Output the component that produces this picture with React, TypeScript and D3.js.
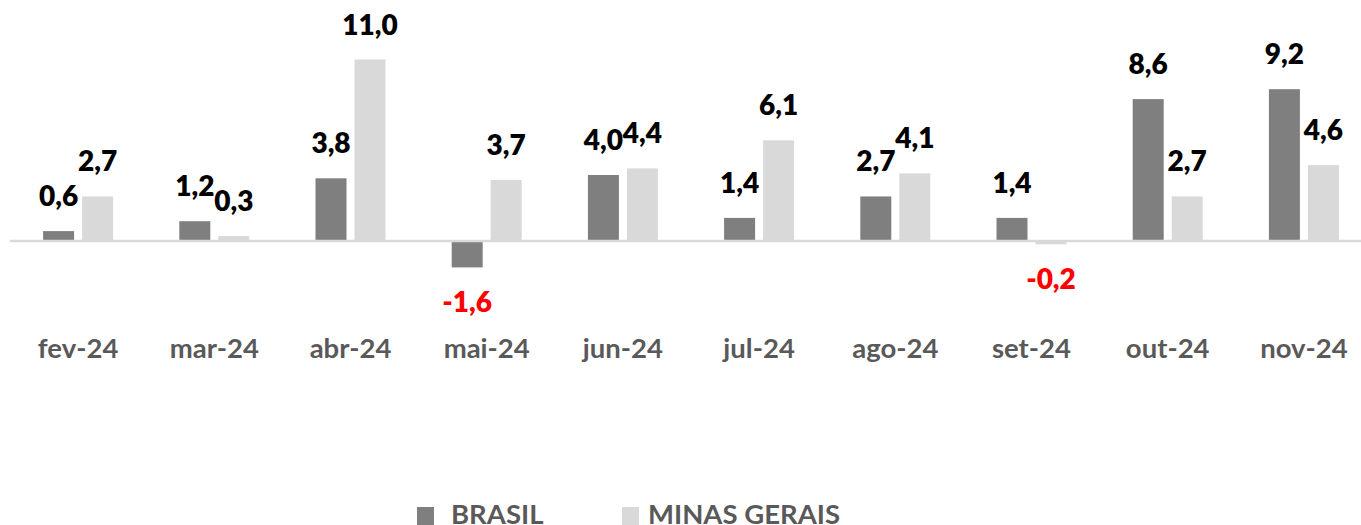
import React from "react";
import * as d3 from "d3";

const months = ["fev-24", "mar-24", "abr-24", "mai-24", "jun-24", "jul-24", "ago-24", "set-24", "out-24", "nov-24"];
const seriesNames = ["BRASIL", "MINAS GERAIS"];
const brasil = [0.6, 1.2, 3.8, -1.6, 4.0, 1.4, 2.7, 1.4, 8.6, 9.2];
const minasGerais = [2.7, 0.3, 11.0, 3.7, 4.4, 6.1, 4.1, -0.2, 2.7, 4.6];
const colors = ["#7f7f7f", "#d9d9d9"];

const W = 1361;
const H = 525;
const FONT = "Lato, 'Open Sans', sans-serif";

export default function App() {
  const x = d3.scaleBand<string>().domain(months).range([10, 1372]).paddingInner(0);
  const sub = d3.scaleBand<string>().domain(seriesNames).range([-35, 35]).paddingInner(0.205);
  const y = d3.scaleLinear().domain([-2, 12]).range([241 + 2 * 16.5, 241 - 12 * 16.5]);
  const fmt = (v: number) => v.toFixed(1).replace(".", ",");
  const data = [brasil, minasGerais];

  return (
    <svg width={W} height={H} style={{ position: "fixed", left: 0, top: 0, background: "#fff" }}>
      {/* bars */}
      {data.map((vals, si) =>
        vals.map((v, i) => {
          const cx = (x(months[i]) as number) + x.bandwidth() / 2;
          const bx = cx + (sub(seriesNames[si]) as number);
          return (
            <rect
              key={`b${si}-${i}`}
              x={bx}
              y={Math.min(y(v), y(0))}
              width={sub.bandwidth()}
              height={Math.abs(y(v) - y(0))}
              fill={colors[si]}
            />
          );
        })
      )}
      {/* zero line */}
      <line x1={10} x2={W} y1={y(0)} y2={y(0)} stroke="#d9d9d9" strokeWidth={2.5} />
      {/* data labels */}
      {data.map((vals, si) =>
        vals.map((v, i) => {
          const cx = (x(months[i]) as number) + x.bandwidth() / 2;
          const lx = cx + (sub(seriesNames[si]) as number) + sub.bandwidth() / 2;
          const ly = v >= 0 ? y(v) - 25 : y(v) + 45;
          return (
            <text
              key={`l${si}-${i}`}
              x={lx}
              y={ly}
              textAnchor="middle"
              fontFamily={FONT}
              fontWeight={800}
              fontSize={28}
              fill={v < 0 ? "#ff0000" : "#000"}
            >
              {fmt(v)}
            </text>
          );
        })
      )}
      {/* category labels */}
      {months.map((m) => (
        <text
          key={m}
          x={(x(m) as number) + x.bandwidth() / 2}
          y={358}
          textAnchor="middle"
          fontFamily={FONT}
          fontWeight={700}
          fontSize={27.5}
          fill="#595959"
        >
          {m}
        </text>
      ))}
      {/* legend */}
      {seriesNames.map((s, si) => {
        const lx = si === 0 ? 417 : 622;
        return (
          <g key={s}>
            <rect x={lx} y={507} width={17} height={18} fill={colors[si]} />
            <text x={lx + (si === 0 ? 34 : 26)} y={524} fontFamily={FONT} fontWeight={700} fontSize={27.5} fill="#595959">
              {s}
            </text>
          </g>
        );
      })}
    </svg>
  );
}
